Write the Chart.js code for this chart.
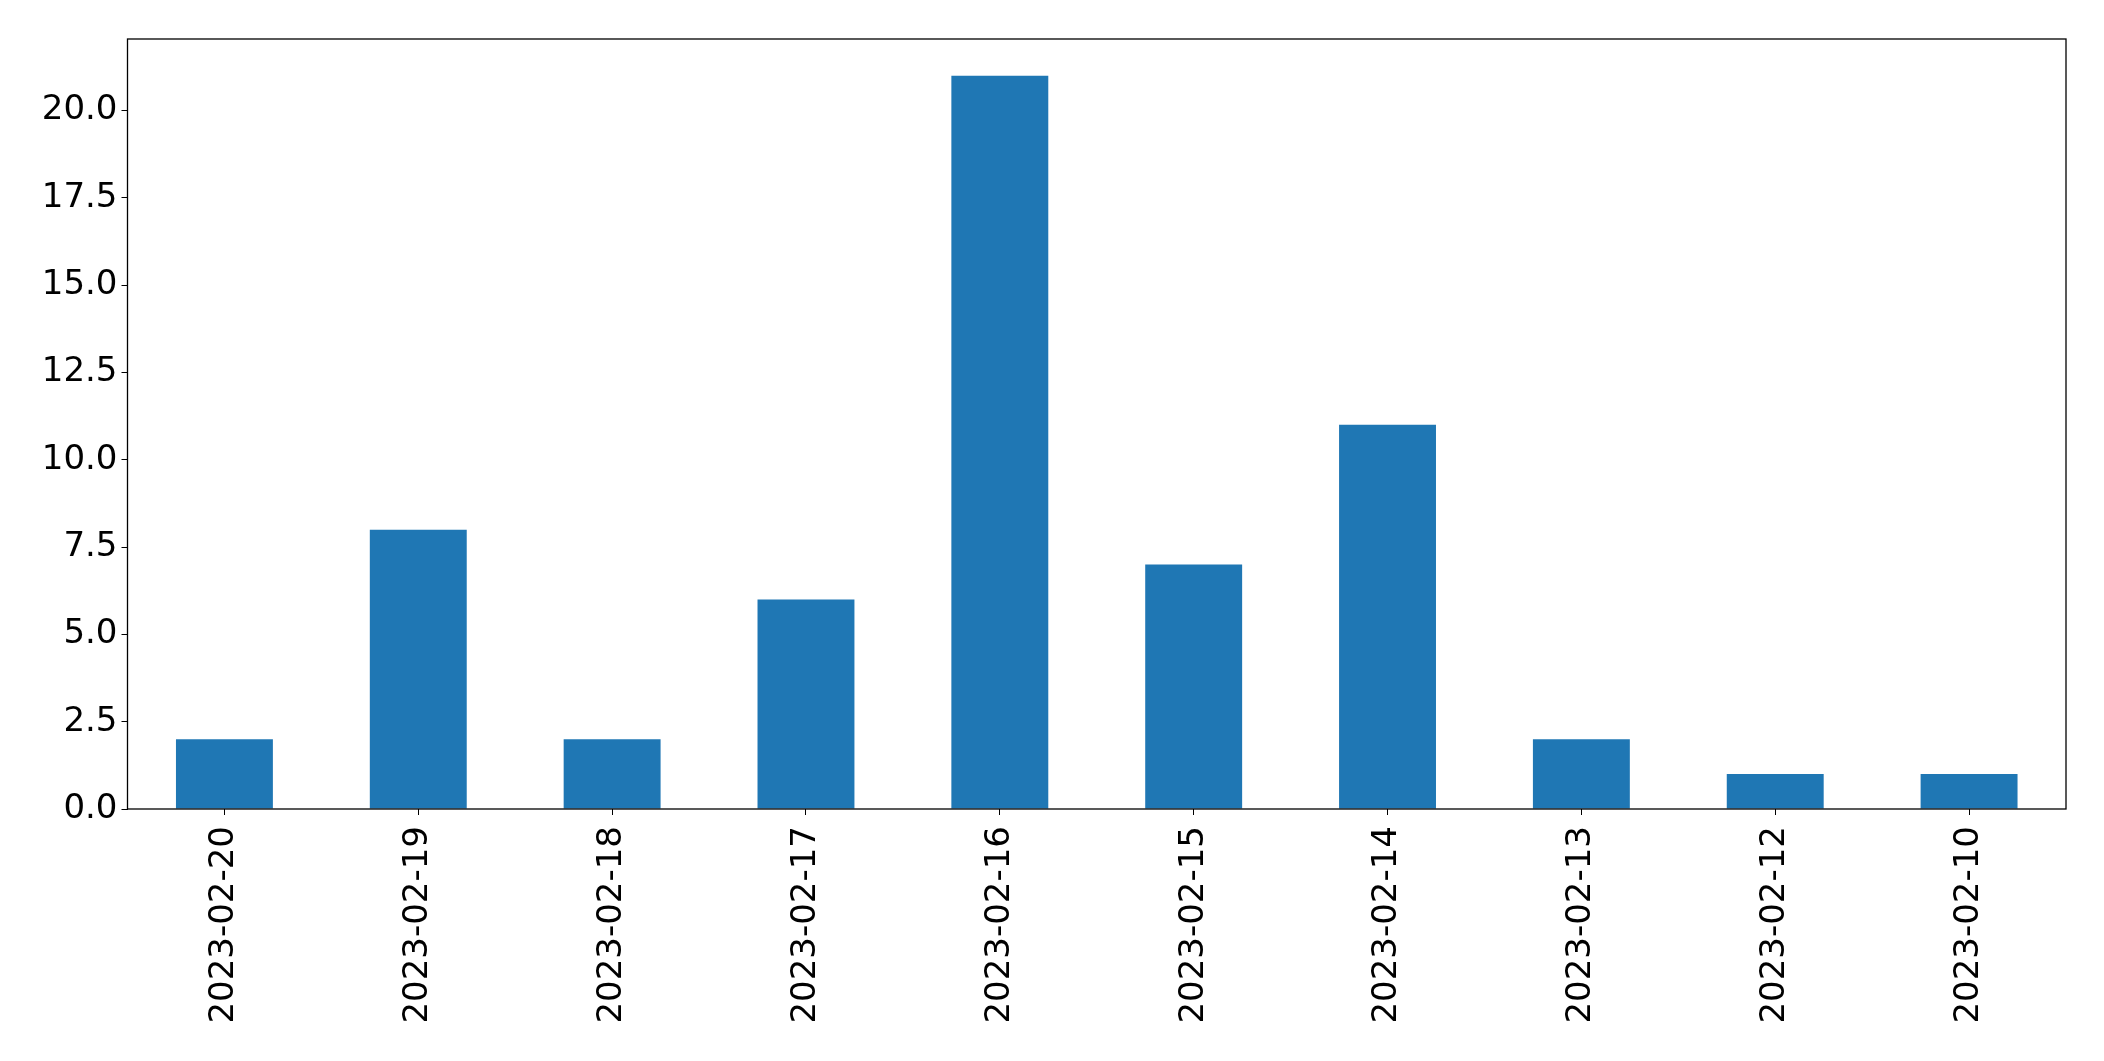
<!DOCTYPE html>
<html>
<head>
<meta charset="utf-8">
<script src="https://cdn.jsdelivr.net/npm/chart.js@4/dist/chart.umd.min.js"></script>
<style>
  html, body { margin: 0; padding: 0; background: #fff; }
  #wrap { width: 2104px; height: 1061px; }
</style>
</head>
<body>
<div id="wrap"><canvas id="barChart" width="2104" height="1061"></canvas></div>
<script>
// data
const dates = ['2023-02-20', '2023-02-19', '2023-02-18', '2023-02-17', '2023-02-16',
               '2023-02-15', '2023-02-14', '2023-02-13', '2023-02-12', '2023-02-10'];
const counts = [2, 8, 2, 6, 21, 7, 11, 2, 1, 1];

const yMax = 22.05;
const tickFont = { family: 'DejaVu Sans', size: 34 };

// box round the plot area (matplotlib frame)
const frameBox = {
    id: 'frameBox',
    afterDraw(chart) {
        const { ctx, chartArea: a } = chart;
        ctx.save();
        ctx.strokeStyle = '#000';
        ctx.lineWidth = 1.3;
        ctx.strokeRect(a.left, a.top, a.right - a.left, a.bottom - a.top);
        ctx.restore();
    }
};

new Chart(document.getElementById('barChart').getContext('2d'), {
    type: 'bar',
    data: {
        labels: dates,
        datasets: [{
            data: counts,
            backgroundColor: '#1f77b4',
            borderWidth: 0,
            categoryPercentage: 1.0,
            barPercentage: 0.5
        }]
    },
    options: {
        responsive: false,
        animation: false,
        layout: { padding: { top: 39, right: 38, bottom: 0, left: 0 } },
        plugins: { legend: { display: false }, tooltip: { enabled: false } },
        scales: {
            x: {
                grid: { drawOnChartArea: false, drawTicks: true, tickLength: 6, color: '#000', offset: false },
                border: { display: false },
                ticks: {
                    color: '#000', font: tickFont, padding: 11,
                    minRotation: 90, maxRotation: 90, autoSkip: false
                },
                afterFit(scale) { scale.height = 252; }
            },
            y: {
                min: 0, max: yMax,
                grid: { drawOnChartArea: false, drawTicks: true, tickLength: 6, color: '#000' },
                border: { display: false },
                ticks: {
                    stepSize: 2.5, includeBounds: false,
                    color: '#000', font: tickFont, padding: 4,
                    callback: v => v.toFixed(1)
                },
                afterFit(scale) { scale.width = 127.5; }
            }
        }
    },
    plugins: [frameBox]
});
</script>
</body>
</html>
